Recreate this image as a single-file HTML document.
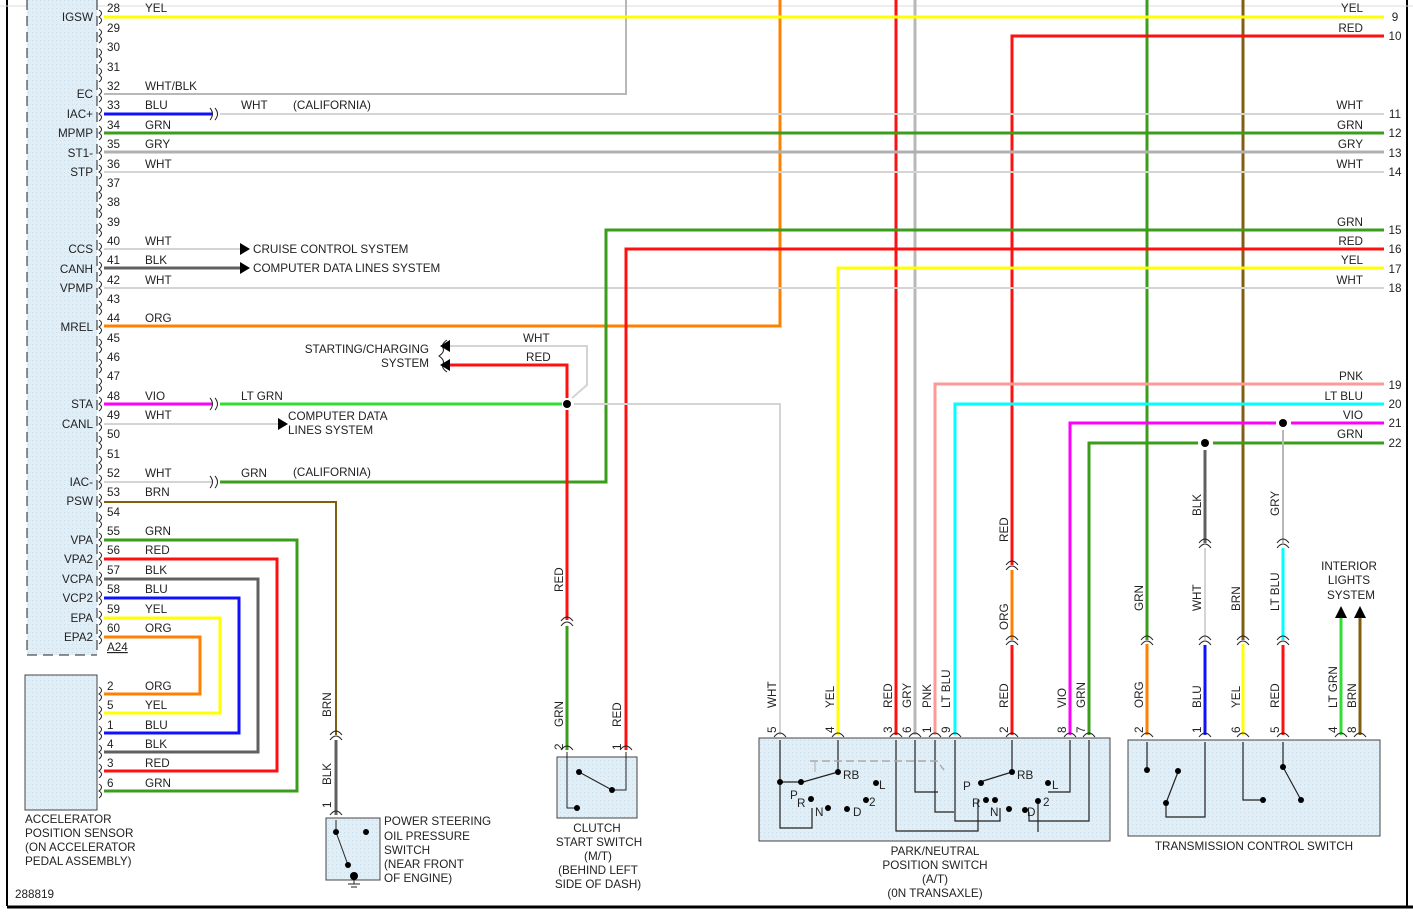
<!DOCTYPE html>
<html><head><meta charset="utf-8"><style>
html,body{margin:0;padding:0;background:#fff;}
svg{display:block;font-family:"Liberation Sans",sans-serif;font-size:11.7px;fill:#222;}
.w{fill:none;stroke-width:3;}
.t{fill:#222;}
</style></head><body>
<svg width="1413" height="912" viewBox="0 0 1413 912" xmlns="http://www.w3.org/2000/svg">
<defs>
<pattern id="dots" width="4" height="4" patternUnits="userSpaceOnUse"><rect width="4" height="4" fill="#e2eef6"/><rect width="1" height="1" fill="#c8dcea"/></pattern>
</defs>
<line x1="7" y1="0" x2="7" y2="906" stroke="#000" stroke-width="2"/>
<line x1="7" y1="907" x2="1413" y2="907" stroke="#000" stroke-width="3"/>
<line x1="1407" y1="0" x2="1407" y2="907" stroke="#000" stroke-width="2"/>
<line x1="0" y1="6" x2="1413" y2="6" stroke="#ddd" stroke-width="1"/>

<rect x="27" y="0" width="70" height="655" fill="url(#dots)"/>
<line x1="27" y1="0" x2="27" y2="655" stroke="#222" stroke-dasharray="10,6"/>
<line x1="27" y1="655" x2="97" y2="655" stroke="#222" stroke-dasharray="10,6"/>
<line x1="97" y1="0" x2="97" y2="655" stroke="#222" stroke-dasharray="10,6"/>

<g stroke="#222" fill="none" stroke-width="1">
<path d="M99 10 q5 3 0 7 q5 3 0 7 M99 29 q5 3 0 7 q5 3 0 7 M99 49 q5 3 0 7 q5 3 0 7 M99 68 q5 3 0 7 q5 3 0 7 M99 88 q5 3 0 7 q5 3 0 7 M99 107 q5 3 0 7 q5 3 0 7 M99 126 q5 3 0 7 q5 3 0 7 M99 146 q5 3 0 7 q5 3 0 7 M99 165 q5 3 0 7 q5 3 0 7 M99 185 q5 3 0 7 q5 3 0 7 M99 204 q5 3 0 7 q5 3 0 7 M99 223 q5 3 0 7 q5 3 0 7 M99 243 q5 3 0 7 q5 3 0 7 M99 262 q5 3 0 7 q5 3 0 7 M99 281 q5 3 0 7 q5 3 0 7 M99 301 q5 3 0 7 q5 3 0 7 M99 320 q5 3 0 7 q5 3 0 7 M99 339 q5 3 0 7 q5 3 0 7 M99 359 q5 3 0 7 q5 3 0 7 M99 378 q5 3 0 7 q5 3 0 7 M99 397 q5 3 0 7 q5 3 0 7 M99 417 q5 3 0 7 q5 3 0 7 M99 436 q5 3 0 7 q5 3 0 7 M99 456 q5 3 0 7 q5 3 0 7 M99 475 q5 3 0 7 q5 3 0 7 M99 494 q5 3 0 7 q5 3 0 7 M99 514 q5 3 0 7 q5 3 0 7 M99 533 q5 3 0 7 q5 3 0 7 M99 552 q5 3 0 7 q5 3 0 7 M99 572 q5 3 0 7 q5 3 0 7 M99 591 q5 3 0 7 q5 3 0 7 M99 611 q5 3 0 7 q5 3 0 7 M99 630 q5 3 0 7 q5 3 0 7"/>
<path d="M99 687 q5 3 0 7 q5 3 0 7 M99 706 q5 3 0 7 q5 3 0 7 M99 726 q5 3 0 7 q5 3 0 7 M99 745 q5 3 0 7 q5 3 0 7 M99 764 q5 3 0 7 q5 3 0 7 M99 784 q5 3 0 7 q5 3 0 7"/>
</g>
<g class="t">
<text x="107" y="12">28</text><text x="107" y="32">29</text><text x="107" y="51">30</text><text x="107" y="71">31</text><text x="107" y="90">32</text><text x="107" y="109">33</text><text x="107" y="129">34</text><text x="107" y="148">35</text><text x="107" y="168">36</text><text x="107" y="187">37</text><text x="107" y="206">38</text><text x="107" y="226">39</text><text x="107" y="245">40</text><text x="107" y="264">41</text><text x="107" y="284">42</text><text x="107" y="303">43</text><text x="107" y="322">44</text><text x="107" y="342">45</text><text x="107" y="361">46</text><text x="107" y="380">47</text><text x="107" y="400">48</text><text x="107" y="419">49</text><text x="107" y="438">50</text><text x="107" y="458">51</text><text x="107" y="477">52</text><text x="107" y="496">53</text><text x="107" y="516">54</text><text x="107" y="535">55</text><text x="107" y="554">56</text><text x="107" y="574">57</text><text x="107" y="593">58</text><text x="107" y="613">59</text><text x="107" y="632">60</text>
<text x="107" y="651" text-decoration="underline">A24</text>
</g>
<g class="t" text-anchor="end">
<text x="93" y="21">IGSW</text><text x="93" y="98">EC</text><text x="93" y="118">IAC+</text><text x="93" y="137">MPMP</text><text x="93" y="157">ST1-</text><text x="93" y="176">STP</text><text x="93" y="253">CCS</text><text x="93" y="273">CANH</text><text x="93" y="292">VPMP</text><text x="93" y="331">MREL</text><text x="93" y="408">STA</text><text x="93" y="428">CANL</text><text x="93" y="486">IAC-</text><text x="93" y="505">PSW</text><text x="93" y="544">VPA</text><text x="93" y="563">VPA2</text><text x="93" y="583">VCPA</text><text x="93" y="602">VCP2</text><text x="93" y="622">EPA</text><text x="93" y="641">EPA2</text>
<text x="93" y="698">EPA2</text><text x="93" y="717">EPA</text><text x="93" y="737">VCP2</text><text x="93" y="756">VCPA</text><text x="93" y="775">VPA2</text><text x="93" y="795">VPA</text>
</g>

<rect x="25" y="675" width="72" height="135" fill="url(#dots)" stroke="#444"/>
<g class="t"><text x="107" y="690">2</text><text x="107" y="709">5</text><text x="107" y="729">1</text><text x="107" y="748">4</text><text x="107" y="767">3</text><text x="107" y="787">6</text>
<text x="145" y="690">ORG</text><text x="145" y="709">YEL</text><text x="145" y="729">BLU</text><text x="145" y="748">BLK</text><text x="145" y="767">RED</text><text x="145" y="787">GRN</text>
<text x="25" y="823">ACCELERATOR</text><text x="25" y="837">POSITION SENSOR</text><text x="25" y="851">(ON ACCELERATOR</text><text x="25" y="865">PEDAL ASSEMBLY)</text>
<text x="15" y="898">288819</text></g>

<g class="w">
<polyline points="104,540 297,540 297,791 104,791" stroke="#3c9c1c"/>
<polyline points="104,559 277,559 277,771 104,771" stroke="#ff1010"/>
<polyline points="104,579 258,579 258,752 104,752" stroke="#606060"/>
<polyline points="104,598 239,598 239,733 104,733" stroke="#1010ff"/>
<polyline points="104,618 220,618 220,713 104,713" stroke="#ffff00"/>
<polyline points="104,637 200,637 200,694 104,694" stroke="#ff8000"/>
</g>
<g class="t"><text x="145" y="535">GRN</text><text x="145" y="554">RED</text><text x="145" y="574">BLK</text><text x="145" y="593">BLU</text><text x="145" y="613">YEL</text><text x="145" y="632">ORG</text></g>

<g class="w">
<polyline points="626,0 626,94 104,94" stroke="#b8b8b8" stroke-width="2"/>
<polyline points="780,0 780,326 104,326" stroke="#ff8000"/>
<line x1="896" y1="0" x2="896" y2="735" stroke="#ff1010"/>
<line x1="915" y1="0" x2="915" y2="735" stroke="#b8b8b8"/>
<line x1="1147" y1="0" x2="1147" y2="640" stroke="#3c9c1c"/>
<line x1="1147" y1="644" x2="1147" y2="735" stroke="#ff8000"/>
<line x1="1243" y1="0" x2="1243" y2="640" stroke="#806010"/>
<line x1="1243" y1="644" x2="1243" y2="735" stroke="#ffff00"/>
</g>

<g class="w">
<line x1="104" y1="17" x2="1384" y2="17" stroke="#ffff00"/>
<polyline points="1012,565 1012,36 1384,36" stroke="#ff1010"/>
<line x1="104" y1="114" x2="212" y2="114" stroke="#1010ff"/>
<line x1="220" y1="114" x2="1384" y2="114" stroke="#d4d4d4" stroke-width="2"/>
<line x1="104" y1="133" x2="1384" y2="133" stroke="#3c9c1c"/>
<line x1="104" y1="152" x2="1384" y2="152" stroke="#b0b0b0"/>
<line x1="104" y1="172" x2="1384" y2="172" stroke="#d4d4d4" stroke-width="2"/>
<line x1="104" y1="249" x2="240" y2="249" stroke="#d4d4d4" stroke-width="2"/>
<line x1="104" y1="268" x2="240" y2="268" stroke="#606060"/>
<line x1="104" y1="288" x2="1384" y2="288" stroke="#d4d4d4" stroke-width="2"/>
<line x1="104" y1="482" x2="212" y2="482" stroke="#d4d4d4" stroke-width="2"/>
<polyline points="220,482 606,482 606,230 1384,230" stroke="#3c9c1c"/>
<polyline points="626,750 626,249 1384,249" stroke="#ff1010"/>
<polyline points="838,735 838,268 1384,268" stroke="#ffff00"/>
<polyline points="935,735 935,384 1384,384" stroke="#ff9999"/>
<polyline points="955,735 955,404 1384,404" stroke="#00ffff"/>
<polyline points="1070,735 1070,423 1276,423" stroke="#ff00ff"/>
<line x1="1291" y1="423" x2="1384" y2="423" stroke="#ff00ff"/>
<polyline points="1089,735 1089,443 1198,443" stroke="#3c9c1c"/>
<line x1="1213" y1="443" x2="1384" y2="443" stroke="#3c9c1c"/>
<line x1="104" y1="404" x2="212" y2="404" stroke="#ff00ff"/>
<line x1="220" y1="404" x2="562" y2="404" stroke="#33dd33"/>
<line x1="104" y1="424" x2="280" y2="424" stroke="#d4d4d4" stroke-width="2"/>
<polyline points="104,502 336,502 336,735" stroke="#806010" stroke-width="2"/>
<line x1="336" y1="740" x2="336" y2="815" stroke="#606060"/>
<polyline points="567,398 567,365 450,365" stroke="#ff1010"/>
<polyline points="572,398 587,385 587,346 450,346" stroke="#d4d4d4" stroke-width="2"/>
<polyline points="574,404 780,404 780,735" stroke="#d4d4d4" stroke-width="2"/>
<line x1="567" y1="410" x2="567" y2="620" stroke="#ff1010"/>
<line x1="567" y1="626" x2="567" y2="750" stroke="#3c9c1c"/>
<line x1="1012" y1="570" x2="1012" y2="640" stroke="#ff8000"/>
<line x1="1012" y1="645" x2="1012" y2="735" stroke="#ff1010"/>
<line x1="1205" y1="450" x2="1205" y2="543" stroke="#606060"/>
<line x1="1205" y1="548" x2="1205" y2="640" stroke="#d4d4d4" stroke-width="2"/>
<line x1="1205" y1="645" x2="1205" y2="735" stroke="#1010ff"/>
<line x1="1283" y1="430" x2="1283" y2="543" stroke="#b8b8b8" stroke-width="2"/>
<line x1="1283" y1="548" x2="1283" y2="640" stroke="#00ffff"/>
<line x1="1283" y1="645" x2="1283" y2="735" stroke="#ff1010"/>
<line x1="1341" y1="618" x2="1341" y2="735" stroke="#33dd33"/>
<line x1="1360" y1="618" x2="1360" y2="735" stroke="#806010"/>
</g>
<g fill="#000"><circle cx="567" cy="404" r="4"/><circle cx="1205" cy="443" r="4"/><circle cx="1283" cy="423" r="4"/></g>
<g stroke="#222" fill="none">
<path d="M210 108 q5 6 0 12 M215 108 q5 6 0 12 M210 476 q5 6 0 12 M215 476 q5 6 0 12 M210 398 q5 6 0 12 M215 398 q5 6 0 12"/>
<path d="M330 740 q6 -8 12 0 M330 735 q6 -8 12 0 M561 626 q6 -8 12 0 M561 621 q6 -8 12 0 M1006 570 q6 -8 12 0 M1006 565 q6 -8 12 0 M1006 645 q6 -8 12 0 M1006 640 q6 -8 12 0 M1141 645 q6 -8 12 0 M1141 640 q6 -8 12 0 M1199 548 q6 -8 12 0 M1199 543 q6 -8 12 0 M1199 645 q6 -8 12 0 M1199 640 q6 -8 12 0 M1237 645 q6 -8 12 0 M1237 640 q6 -8 12 0 M1277 548 q6 -8 12 0 M1277 543 q6 -8 12 0 M1277 645 q6 -8 12 0 M1277 640 q6 -8 12 0"/>
<path d="M330 815 q6 -8 12 0 M561 750 q6 -8 12 0 M620 750 q6 -8 12 0 M774 737 q6 -8 12 0 M832 737 q6 -8 12 0 M890 737 q6 -8 12 0 M909 737 q6 -8 12 0 M929 737 q6 -8 12 0 M949 737 q6 -8 12 0 M1006 737 q6 -8 12 0 M1064 737 q6 -8 12 0 M1083 737 q6 -8 12 0 M1141 737 q6 -8 12 0 M1199 737 q6 -8 12 0 M1237 737 q6 -8 12 0 M1277 737 q6 -8 12 0 M1335 737 q6 -8 12 0 M1354 737 q6 -8 12 0"/>
<path d="M447 340 q-6 4 -4 8 q2 4 -4 8 q6 4 4 8 q-2 4 4 8"/>
</g>
<g fill="#000">
<polygon points="240,243 250,249 240,255"/><polygon points="240,262 250,268 240,274"/>
<polygon points="278,418 288,424 278,430"/>
<polygon points="450,340 440,346 450,352"/><polygon points="450,359 440,365 450,371"/>
<polygon points="1335,618 1341,606 1347,618"/><polygon points="1354,618 1360,606 1366,618"/>
</g>

<g class="t">
<text x="145" y="12">YEL</text><text x="145" y="90">WHT/BLK</text><text x="145" y="109">BLU</text><text x="241" y="109">WHT</text><text x="293" y="109">(CALIFORNIA)</text>
<text x="145" y="129">GRN</text><text x="145" y="148">GRY</text><text x="145" y="168">WHT</text><text x="145" y="245">WHT</text><text x="145" y="264">BLK</text><text x="145" y="284">WHT</text><text x="145" y="322">ORG</text>
<text x="253" y="253">CRUISE CONTROL SYSTEM</text><text x="253" y="272">COMPUTER DATA LINES SYSTEM</text>
<text x="145" y="400">VIO</text><text x="241" y="400">LT GRN</text><text x="145" y="419">WHT</text>
<text x="288" y="420">COMPUTER DATA</text><text x="288" y="434">LINES SYSTEM</text>
<text x="145" y="477">WHT</text><text x="241" y="477">GRN</text><text x="293" y="476">(CALIFORNIA)</text><text x="145" y="496">BRN</text>
<text x="523" y="342">WHT</text><text x="526" y="361">RED</text>
<text x="429" y="353" text-anchor="end">STARTING/CHARGING</text><text x="429" y="367" text-anchor="end">SYSTEM</text>
</g>
<g class="t" text-anchor="end">
<text x="1363" y="12">YEL</text><text x="1363" y="32">RED</text><text x="1363" y="109">WHT</text><text x="1363" y="129">GRN</text><text x="1363" y="148">GRY</text><text x="1363" y="168">WHT</text><text x="1363" y="226">GRN</text><text x="1363" y="245">RED</text><text x="1363" y="264">YEL</text><text x="1363" y="284">WHT</text><text x="1363" y="380">PNK</text><text x="1363" y="400">LT BLU</text><text x="1363" y="419">VIO</text><text x="1363" y="438">GRN</text>
</g>
<g class="t" text-anchor="middle">
<text x="1395" y="21">9</text><text x="1395" y="40">10</text><text x="1395" y="118">11</text><text x="1395" y="137">12</text><text x="1395" y="157">13</text><text x="1395" y="176">14</text><text x="1395" y="234">15</text><text x="1395" y="253">16</text><text x="1395" y="273">17</text><text x="1395" y="292">18</text><text x="1395" y="389">19</text><text x="1395" y="408">20</text><text x="1395" y="427">21</text><text x="1395" y="447">22</text>
<text x="1349" y="570">INTERIOR</text><text x="1349" y="584">LIGHTS</text><text x="1351" y="599">SYSTEM</text>
</g>
<g class="t">
<text transform="translate(331,717) rotate(-90)">BRN</text>
<text transform="translate(331,785) rotate(-90)">BLK</text>
<text transform="translate(331,808) rotate(-90)">1</text>
<text transform="translate(563,592) rotate(-90)">RED</text>
<text transform="translate(563,727) rotate(-90)">GRN</text>
<text transform="translate(563,750) rotate(-90)">2</text>
<text transform="translate(621,727) rotate(-90)">RED</text>
<text transform="translate(621,750) rotate(-90)">1</text>
<text transform="translate(1008,542) rotate(-90)">RED</text>
<text transform="translate(1008,630) rotate(-90)">ORG</text>
<text transform="translate(1143,611) rotate(-90)">GRN</text>
<text transform="translate(1201,516) rotate(-90)">BLK</text>
<text transform="translate(1201,611) rotate(-90)">WHT</text>
<text transform="translate(1240,611) rotate(-90)">BRN</text>
<text transform="translate(1279,516) rotate(-90)">GRY</text>
<text transform="translate(1279,611) rotate(-90)">LT BLU</text>
<text transform="translate(776,708) rotate(-90)">WHT</text><text transform="translate(776,733) rotate(-90)">5</text>
<text transform="translate(834,708) rotate(-90)">YEL</text><text transform="translate(834,733) rotate(-90)">4</text>
<text transform="translate(892,708) rotate(-90)">RED</text><text transform="translate(892,733) rotate(-90)">3</text>
<text transform="translate(911,708) rotate(-90)">GRY</text><text transform="translate(911,733) rotate(-90)">6</text>
<text transform="translate(931,708) rotate(-90)">PNK</text><text transform="translate(931,733) rotate(-90)">1</text>
<text transform="translate(950,708) rotate(-90)">LT BLU</text><text transform="translate(950,733) rotate(-90)">9</text>
<text transform="translate(1008,708) rotate(-90)">RED</text><text transform="translate(1008,733) rotate(-90)">2</text>
<text transform="translate(1066,708) rotate(-90)">VIO</text><text transform="translate(1066,733) rotate(-90)">8</text>
<text transform="translate(1085,708) rotate(-90)">GRN</text><text transform="translate(1085,733) rotate(-90)">7</text>
<text transform="translate(1143,708) rotate(-90)">ORG</text><text transform="translate(1143,733) rotate(-90)">2</text>
<text transform="translate(1201,708) rotate(-90)">BLU</text><text transform="translate(1201,733) rotate(-90)">1</text>
<text transform="translate(1240,708) rotate(-90)">YEL</text><text transform="translate(1240,733) rotate(-90)">6</text>
<text transform="translate(1279,708) rotate(-90)">RED</text><text transform="translate(1279,733) rotate(-90)">5</text>
<text transform="translate(1337,708) rotate(-90)">LT GRN</text><text transform="translate(1337,733) rotate(-90)">4</text>
<text transform="translate(1356,708) rotate(-90)">BRN</text><text transform="translate(1356,733) rotate(-90)">8</text>
<text transform="translate(1344,768) rotate(-90)">ILL+</text><text transform="translate(1364,768) rotate(-90)">ILL-</text>
</g>

<rect x="326" y="818" width="54" height="62" fill="url(#dots)" stroke="#444"/>
<g stroke="#222" fill="none"><polyline points="336,820 336,832"/><line x1="336" y1="832" x2="348" y2="865"/><line x1="354" y1="872" x2="354" y2="884"/><line x1="348" y1="884" x2="360" y2="884"/><line x1="351" y1="887" x2="357" y2="887"/></g>
<g fill="#000"><circle cx="336" cy="832" r="3"/><circle cx="366" cy="832" r="3"/><circle cx="348" cy="865" r="3"/><circle cx="354" cy="876" r="4"/></g>
<g class="t"><text x="384" y="825">POWER STEERING</text><text x="384" y="840">OIL PRESSURE</text><text x="384" y="854">SWITCH</text><text x="384" y="868">(NEAR FRONT</text><text x="384" y="882">OF ENGINE)</text></g>

<rect x="557" y="757" width="80" height="61" fill="url(#dots)" stroke="#444"/>
<g stroke="#222" fill="none"><polyline points="567,752 567,808 577,808"/><polyline points="626,752 626,790 612,790"/><line x1="579" y1="772" x2="612" y2="790"/></g>
<g fill="#000"><circle cx="579" cy="772" r="3"/><circle cx="612" cy="790" r="3"/><circle cx="577" cy="808" r="3"/></g>
<g class="t" text-anchor="middle"><text x="597" y="832">CLUTCH</text><text x="599" y="846">START SWITCH</text><text x="598" y="860">(M/T)</text><text x="598" y="874">(BEHIND LEFT</text><text x="598" y="888">SIDE OF DASH)</text></g>

<rect x="759" y="738" width="351" height="103" fill="url(#dots)" stroke="#444"/>
<g stroke="#222" fill="none" stroke-width="1.2">
<polyline points="780,740 780,828 812,828 812,808"/>
<polyline points="780,782 801,782"/>
<line x1="838" y1="740" x2="838" y2="772"/>
<line x1="838" y1="772" x2="803" y2="782"/>
<polyline points="896,740 896,831 978,831 978,800"/>
<polyline points="915,740 915,792 938,792"/>
<polyline points="935,740 935,812 954,812"/>
<polyline points="955,740 955,821 1000,821 1000,808"/>
<polyline points="1012,740 1012,772 983,781"/>
<polyline points="1070,740 1070,792 1048,792"/>
<polyline points="1089,740 1089,821 1029,821 1029,812"/>
<polyline points="1038,801 1038,832"/>
</g>
<polyline points="810,761 937,761 944,770" stroke="#aaa" stroke-width="1.5" stroke-dasharray="8,4" fill="none"/>
<line x1="815" y1="761" x2="815" y2="772" stroke="#aaa"/>
<g fill="#000">
<circle cx="838" cy="772" r="3"/><circle cx="780" cy="782" r="3"/><circle cx="801" cy="782" r="3"/><circle cx="876" cy="783" r="3"/><circle cx="811" cy="799" r="3"/><circle cx="828" cy="808" r="3"/><circle cx="847" cy="809" r="3"/><circle cx="866" cy="800" r="3"/>
<circle cx="1012" cy="772" r="3"/><circle cx="981" cy="783" r="3"/><circle cx="995" cy="800" r="3"/><circle cx="1009" cy="809" r="3"/><circle cx="986" cy="800" r="3"/><circle cx="1048" cy="783" r="3"/><circle cx="1038" cy="801" r="3"/><circle cx="1025" cy="810" r="3"/>
</g>
<g class="t">
<text x="843" y="779">RB</text><text x="879" y="789">L</text><text x="790" y="799">P</text><text x="797" y="807">R</text><text x="815" y="816">N</text><text x="853" y="816">D</text><text x="869" y="806">2</text>
<text x="1017" y="779">RB</text><text x="963" y="790">P</text><text x="972" y="807">R</text><text x="990" y="816">N</text><text x="1027" y="816">D</text><text x="1043" y="806">2</text><text x="1052" y="789">L</text>
</g>
<g class="t" text-anchor="middle"><text x="935" y="855">PARK/NEUTRAL</text><text x="935" y="869">POSITION SWITCH</text><text x="935" y="883">(A/T)</text><text x="935" y="897">(0N TRANSAXLE)</text></g>

<rect x="1128" y="740" width="252" height="96" fill="url(#dots)" stroke="#444"/>
<g stroke="#222" fill="none" stroke-width="1.2">
<polyline points="1147,742 1147,770"/>
<polyline points="1205,742 1205,817 1166,817 1166,803"/>
<line x1="1166" y1="803" x2="1178" y2="772"/>
<polyline points="1243,742 1243,800 1263,800"/>
<polyline points="1283,742 1283,767 1301,800"/>
</g>
<g fill="#000"><circle cx="1147" cy="770" r="3"/><circle cx="1178" cy="771" r="3"/><circle cx="1166" cy="803" r="3"/><circle cx="1263" cy="800" r="3"/><circle cx="1283" cy="767" r="3"/><circle cx="1301" cy="800" r="3"/></g>
<text class="t" x="1254" y="850" text-anchor="middle">TRANSMISSION CONTROL SWITCH</text>
</svg>
</body></html>
